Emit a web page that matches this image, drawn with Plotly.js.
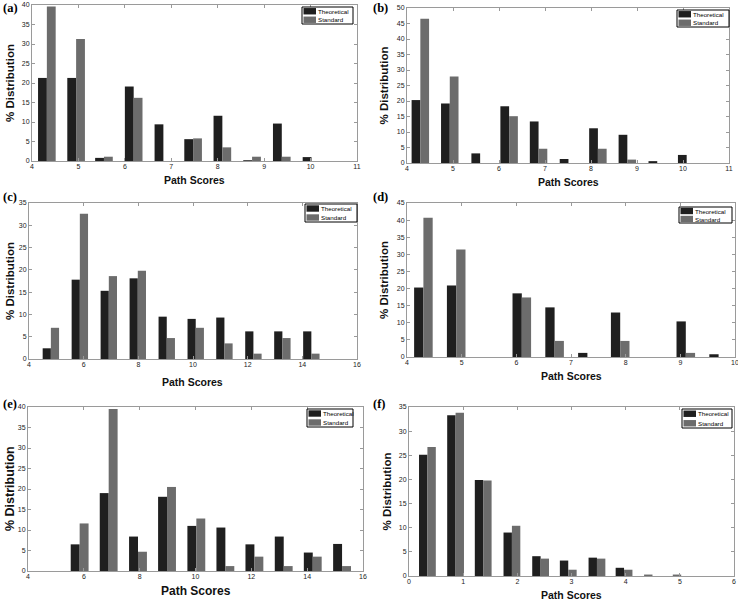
<!DOCTYPE html>
<html>
<head>
<meta charset="utf-8">
<script src="https://cdn.plot.ly/plotly-3.0.1.min.js"></script>
<style>html,body{margin:0;padding:0;background:#fff}#chart{width:738px;height:600px}</style>
</head>
<body>
<div id="chart"></div>
<script>
// ---- Data ----
const seriesNames = ["Theoretical", "Standard"];

const aScores = [4.32, 4.95, 5.55, 6.19, 6.83, 7.47, 8.10, 8.74, 9.38, 10.02];
const aTheoretical = [21.3, 21.3, 0.8, 19.1, 9.4, 5.6, 11.6, 0.2, 9.6, 1.0];
const aStandard = [39.6, 31.3, 1.1, 16.2, 0, 5.8, 3.5, 1.1, 1.1, 0];

const bScores = [4.29, 4.93, 5.59, 6.22, 6.86, 7.51, 8.15, 8.79, 9.44, 10.08];
const bTheoretical = [20.3, 19.2, 3.1, 18.3, 13.4, 1.3, 11.2, 9.1, 0.6, 2.6];
const bStandard = [46.5, 27.9, 0, 15.1, 4.6, 0, 4.6, 1.1, 0, 0];

const cScores = [4.80, 5.86, 6.92, 7.98, 9.04, 10.10, 11.15, 12.21, 13.27, 14.33];
const cTheoretical = [2.4, 17.8, 15.3, 18.1, 9.5, 9.0, 9.3, 6.2, 6.2, 6.2];
const cStandard = [7.0, 32.6, 18.6, 19.8, 4.7, 7.0, 3.5, 1.2, 4.7, 1.2];

const dScores = [4.30, 4.90, 5.50, 6.10, 6.70, 7.30, 7.90, 8.50, 9.10, 9.70];
const dTheoretical = [20.3, 20.9, 0, 18.6, 14.5, 1.2, 13.0, 0, 10.4, 0.8];
const dStandard = [40.7, 31.4, 0, 17.4, 4.7, 0, 4.7, 0, 1.2, 0];

const eScores = [5.85, 6.89, 7.94, 8.98, 10.03, 11.07, 12.11, 13.16, 14.20, 15.25];
const eTheoretical = [6.5, 19.0, 8.4, 18.1, 11.0, 10.6, 6.5, 8.4, 4.5, 6.6];
const eStandard = [11.6, 39.5, 4.7, 20.5, 12.8, 1.2, 3.5, 1.2, 3.5, 1.2];

const fScores = [0.34, 0.86, 1.37, 1.90, 2.43, 2.94, 3.47, 3.97, 4.34, 4.87];
const fTheoretical = [25.1, 33.3, 19.9, 9.0, 4.1, 3.2, 3.8, 1.7, 0, 0];
const fStandard = [26.7, 33.8, 19.8, 10.4, 3.6, 1.3, 3.6, 1.3, 0.3, 0.3];

const panelLabels = ["(a)", "(b)", "(c)", "(d)", "(e)", "(f)"];
const xTitle = "Path Scores";
const yTitle = "% Distribution";

// ---- Layout / style (pixels in a 738x600 page) ----
const W = 738, H = 600;
const panels = [
  {label: panelLabels[0], x: aScores, t: aTheoretical, s: aStandard,
   box: [32, 357, 5, 161], xr: [4, 11], xd: 1, yr: [0, 40], bw: 0.19,
   leg: [302, 353, 7, 24], lab: [1, 8], xt: 180, yt: 10, fx: 10.5, fy: 11.5},
  {label: panelLabels[1], x: bScores, t: bTheoretical, s: bStandard,
   box: [407, 729, 8, 163], xr: [4, 11], xd: 1, yr: [0, 50], bw: 0.19,
   leg: [677, 729, 10, 27], lab: [371, 8], xt: 182, yt: 384, fx: 10.5, fy: 11.5},
  {label: panelLabels[2], x: cScores, t: cTheoretical, s: cStandard,
   box: [29, 357, 203, 359], xr: [4, 16], xd: 2, yr: [0, 35], bw: 0.30,
   leg: [305, 357, 204, 222], lab: [1, 197], xt: 382, yt: 10, fx: 10.5, fy: 11.5},
  {label: panelLabels[3], x: dScores, t: dTheoretical, s: dStandard,
   box: [407, 735, 203, 357], xr: [4, 10], xd: 1, yr: [0, 45], bw: 0.17,
   leg: [679, 732, 207, 223], lab: [371, 197], xt: 376, yt: 384, fx: 10.5, fy: 11.5},
  {label: panelLabels[4], x: eScores, t: eTheoretical, s: eStandard,
   box: [28, 363, 407, 571], xr: [4, 16], xd: 2, yr: [0, 40], bw: 0.32,
   leg: [307, 353, 409, 427], lab: [1, 404], xt: 591, yt: 10, fx: 12, fy: 12.5},
  {label: panelLabels[5], x: fScores, t: fTheoretical, s: fStandard,
   box: [409, 734, 407, 576], xr: [0, 6], xd: 1, yr: [0, 35], bw: 0.155,
   leg: [682, 732, 409, 428], lab: [371, 404], xt: 595, yt: 386, fx: 10.5, fy: 11.5}
];

const colT = "#1f1f1f", colS = "#6c6c6c";
const sans = "Liberation Sans, Arial, sans-serif";
const tickFont = {family: sans, size: 7, color: "#222"};

const data = [];
const layout = {
  width: W, height: H,
  margin: {l: 0, r: 0, t: 0, b: 0},
  paper_bgcolor: "#fff", plot_bgcolor: "#fff",
  barmode: "overlay",
  showlegend: false,
  annotations: [],
  shapes: [],
  font: {family: sans}
};

const px = v => v / W, py = v => 1 - v / H;

panels.forEach((p, i) => {
  const n = i === 0 ? "" : String(i + 1);
  const xa = "x" + n, ya = "y" + n;
  data.push({
    type: "bar", name: seriesNames[0], x: p.x, y: p.t,
    xaxis: xa, yaxis: ya,
    width: p.bw, offset: -p.bw,
    marker: {color: colT, line: {width: 0}},
    hoverinfo: "x+y"
  });
  data.push({
    type: "bar", name: seriesNames[1], x: p.x, y: p.s,
    xaxis: xa, yaxis: ya,
    width: p.bw, offset: 0,
    marker: {color: colS, line: {width: 0}},
    hoverinfo: "x+y"
  });
  const [l, r, t, b] = p.box;
  const axCommon = {
    showline: true, linecolor: "#9a9a9a", linewidth: 1, mirror: "ticks",
    ticks: "inside", ticklen: 3, tickcolor: "#9a9a9a", tickwidth: 1,
    showgrid: false, zeroline: false, tickfont: tickFont, fixedrange: true,
    ticklabeloverflow: "allow"
  };
  layout["xaxis" + n] = Object.assign({}, axCommon, {
    domain: [px(l), px(r)], range: p.xr, tick0: p.xr[0], dtick: p.xd,
    anchor: ya, ticklabelstandoff: -1
  });
  layout["yaxis" + n] = Object.assign({}, axCommon, {
    domain: [py(b), py(t)], range: p.yr, tick0: 0, dtick: 5,
    anchor: xa, ticklabelstandoff: 0
  });
  // axis titles
  layout.annotations.push({
    text: xTitle, xref: "paper", yref: "paper",
    x: px((l + r) / 2), y: py(p.xt), xanchor: "center", yanchor: "middle",
    showarrow: false, font: {family: sans, size: p.fx, color: "#111", weight: "bold"}
  });
  layout.annotations.push({
    text: yTitle, xref: "paper", yref: "paper", textangle: -90,
    x: px(p.yt), y: py((t + b) / 2), xanchor: "center", yanchor: "middle",
    showarrow: false, font: {family: sans, size: p.fy, color: "#111", weight: "bold"}
  });
  // panel label
  layout.annotations.push({
    text: "<b>" + p.label + "</b>", xref: "paper", yref: "paper",
    x: px(p.lab[0]), y: py(p.lab[1]), xanchor: "left", yanchor: "middle",
    showarrow: false,
    font: {family: "Liberation Serif, Times New Roman, serif", size: 12.5, color: "#000"}
  });
  // legend box
  const [L0, L1, T0, T1] = p.leg;
  const rowH = (T1 - T0) / 2;
  layout.shapes.push({type: "rect", xref: "paper", yref: "paper",
    x0: px(L0), x1: px(L1), y0: py(T1), y1: py(T0),
    line: {color: "#000", width: 1}, fillcolor: "#fff", layer: "above"});
  seriesNames.forEach((nm, k) => {
    const cy = T0 + rowH * (k + 0.5);
    layout.shapes.push({type: "rect", xref: "paper", yref: "paper",
      x0: px(L0 + 1.5), x1: px(L0 + 14), y0: py(cy + 3.2), y1: py(cy - 3.2),
      line: {width: 0}, fillcolor: k === 0 ? colT : colS, layer: "above"});
    layout.annotations.push({
      text: nm, xref: "paper", yref: "paper",
      x: px(L0 + 15), y: py(cy), xanchor: "left", yanchor: "middle",
      showarrow: false, borderpad: 0,
      font: {family: sans, size: 6.2, color: "#000"}
    });
  });
});

Plotly.newPlot("chart", data, layout, {staticPlot: true, displayModeBar: false});
</script>
</body>
</html>
